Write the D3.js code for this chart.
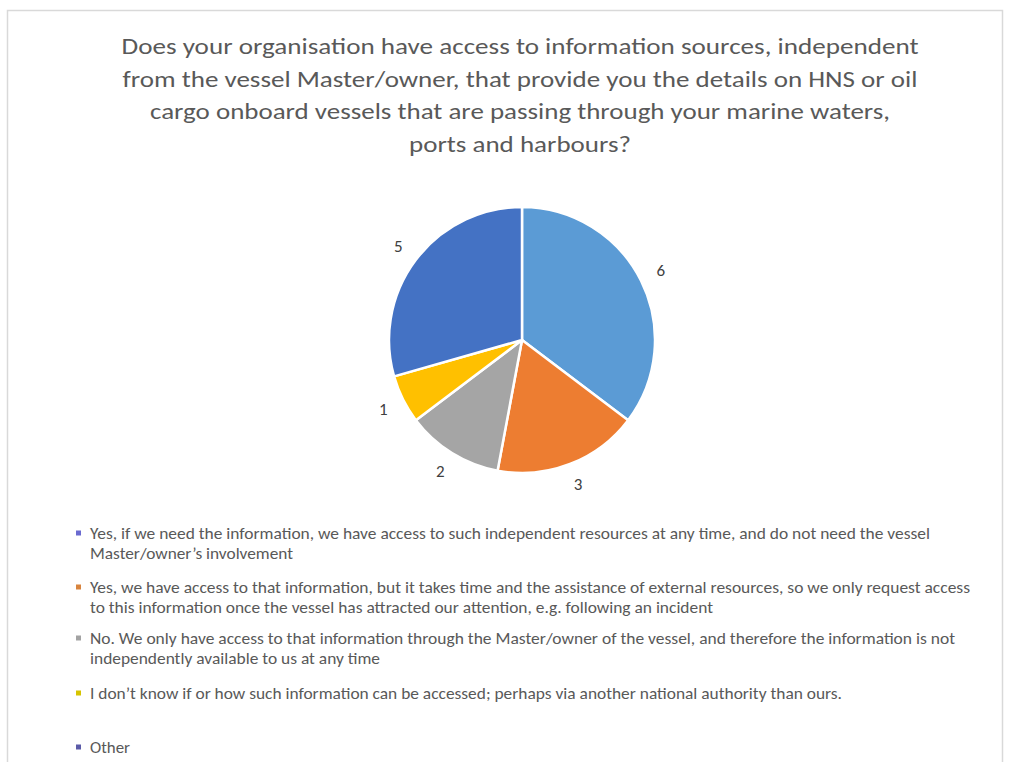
<!DOCTYPE html>
<html>
<head>
<meta charset="utf-8">
<script src="https://cdn.jsdelivr.net/npm/d3@7"></script>
<style>
  html, body { margin: 0; padding: 0; background: #fff; }
  svg { display: block; }
</style>
</head>
<body>
<svg id="chart" width="1017" height="762"></svg>
<script>
// Survey answers and respondent counts
const answers = [
  "Yes, if we need the information, we have access to such independent resources at any time, and do not need the vessel Master/owner’s involvement",
  "Yes, we have access to that information, but it takes time and the assistance of external resources, so we only request access to this information once the vessel has attracted our attention, e.g. following an incident",
  "No. We only have access to that information through the Master/owner of the vessel, and therefore the information is not independently available to us at any time",
  "I don’t know if or how such information can be accessed; perhaps via another national authority than ours.",
  "Other"
];
const counts = [6, 3, 2, 1, 5];
const sliceColors = ["#5b9bd5", "#ed7d31", "#a5a5a5", "#ffc000", "#4472c4"];
const legendColors = ["#6a6ad0", "#d8843e", "#a3a3a3", "#d6c400", "#5b5ba8"];

// Wrapped lines for the title and legend entries
const titleLines = [
  "Does your organisation have access to information sources, independent",
  "from the vessel Master/owner, that provide you the details on HNS or oil",
  "cargo onboard vessels that are passing through your marine waters,",
  "ports and harbours?"
];
const legendLines = [
  ["Yes, if we need the information, we have access to such independent resources at any time, and do not need the vessel",
   "Master/owner’s involvement"],
  ["Yes, we have access to that information, but it takes time and the assistance of external resources, so we only request access",
   "to this information once the vessel has attracted our attention, e.g. following an incident"],
  ["No. We only have access to that information through the Master/owner of the vessel, and therefore the information is not",
   "independently available to us at any time"],
  ["I don’t know if or how such information can be accessed; perhaps via another national authority than ours."],
  ["Other"]
];

const svg = d3.select("#chart");
const font = "Carlito, 'Liberation Sans Narrow', Lato, 'Open Sans', sans-serif";
const textColor = "#595959";

// Chart frame
svg.append("path")
  .attr("d", "M7.5,762 V10.5 H1002.5 V762")
  .attr("fill", "none")
  .attr("stroke", "#d9d9d9")
  .attr("stroke-width", 1.5);

// Title
const titleWidths = [797, 795, 740, 222];
svg.append("g").selectAll("text")
  .data(titleLines)
  .join("text")
  .attr("x", 520)
  .attr("y", (d, i) => 54 + i * 32.5)
  .attr("text-anchor", "middle")
  .attr("font-family", font)
  .attr("font-size", 23)
  .attr("fill", textColor)
  .attr("textLength", (d, i) => titleWidths[i])
  .attr("lengthAdjust", "spacingAndGlyphs")
  .text(d => d);

// Pie
const cx = 522, cy = 340, radius = 133;
const pie = d3.pie().sort(null).value(d => d);
const arc = d3.arc().innerRadius(0).outerRadius(radius);
const labelArc = d3.arc().innerRadius(155).outerRadius(155);
const arcs = pie(counts);

const g = svg.append("g").attr("transform", `translate(${cx},${cy})`);
g.selectAll("path")
  .data(arcs)
  .join("path")
  .attr("d", arc)
  .attr("fill", (d, i) => sliceColors[i])
  .attr("stroke", "#fff")
  .attr("stroke-width", 2.5)
  .attr("stroke-linejoin", "round");

g.selectAll("text")
  .data(arcs)
  .join("text")
  .attr("transform", d => `translate(${labelArc.centroid(d)})`)
  .attr("text-anchor", "middle")
  .attr("dominant-baseline", "central")
  .attr("font-family", font)
  .attr("font-size", 17)
  .attr("fill", "#404040")
  .text(d => d.data);

// Legend
const legendTop = [533, 587, 638, 693, 747];
const legendWidths = [[840, 203], [880, 623], [865, 290], [752], [40]];
const lg = svg.append("g");
answers.forEach((a, i) => {
  lg.append("rect")
    .attr("x", 76).attr("y", legendTop[i] - 2.5)
    .attr("width", 5).attr("height", 5)
    .attr("fill", legendColors[i]);
  legendLines[i].forEach((line, j) => {
    lg.append("text")
      .attr("x", 90)
      .attr("y", legendTop[i] + j * 20)
      .attr("dominant-baseline", "central")
      .attr("font-family", font)
      .attr("font-size", 15.5)
      .attr("fill", textColor)
      .attr("textLength", legendWidths[i][j])
      .attr("lengthAdjust", "spacingAndGlyphs")
      .text(line);
  });
});
</script>
</body>
</html>
